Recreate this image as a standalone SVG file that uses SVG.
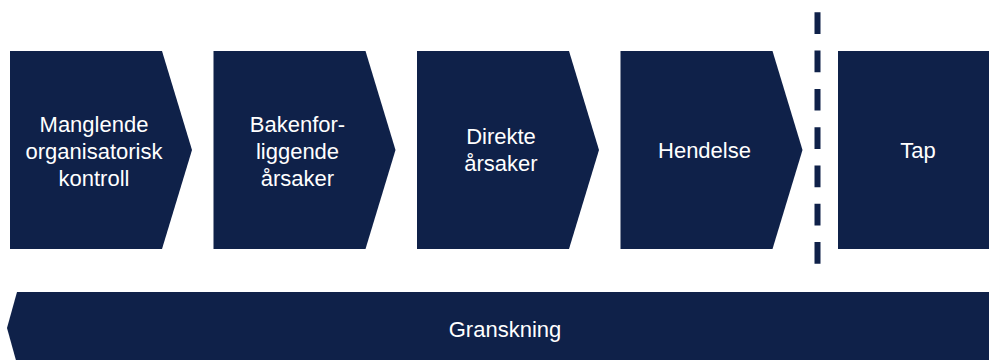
<svg xmlns="http://www.w3.org/2000/svg" width="989" height="360" viewBox="0 0 989 360">
  <style>
    .box { fill: #0f2149; }
    .lbl { font-family: "Liberation Sans", Arial, sans-serif; font-size: 22px; fill: #ffffff; text-anchor: middle; }
    .divider { stroke: #0f2149; stroke-width: 6; stroke-dasharray: 21.7 16.6; fill: none; }
  </style>

  <!-- chain of causes, each a chevron pointing right -->
  <g id="manglende-kontroll">
    <polygon class="box" points="10,51 162,51 192,150 162,249 10,249"/>
    <text class="lbl" x="94" y="132">Manglende</text>
    <text class="lbl" x="94" y="159">organisatorisk</text>
    <text class="lbl" x="94" y="186">kontroll</text>
  </g>

  <g id="bakenforliggende">
    <polygon class="box" points="213.5,51 365.5,51 395.5,150 365.5,249 213.5,249"/>
    <text class="lbl" x="297.5" y="132">Bakenfor-</text>
    <text class="lbl" x="297.5" y="159">liggende</text>
    <text class="lbl" x="297.5" y="186">årsaker</text>
  </g>

  <g id="direkte">
    <polygon class="box" points="417,51 569,51 599,150 569,249 417,249"/>
    <text class="lbl" x="501" y="144">Direkte</text>
    <text class="lbl" x="501" y="171">årsaker</text>
  </g>

  <g id="hendelse">
    <polygon class="box" points="620.5,51 772.5,51 802.5,150 772.5,249 620.5,249"/>
    <text class="lbl" x="704.5" y="158">Hendelse</text>
  </g>

  <!-- dashed separator between event and loss -->
  <g id="connectors">
    <line class="divider" x1="817.5" y1="12.3" x2="817.5" y2="265"/>
  </g>

  <g id="tap">
    <rect class="box" x="838" y="51" width="160" height="198"/>
    <text class="lbl" x="918" y="158">Tap</text>
  </g>

  <!-- investigation runs backwards along the whole chain -->
  <g id="granskning">
    <polygon class="box" points="17,292 998,292 998,364 17,364 7,328"/>
    <text class="lbl" x="505" y="337">Granskning</text>
  </g>
</svg>
